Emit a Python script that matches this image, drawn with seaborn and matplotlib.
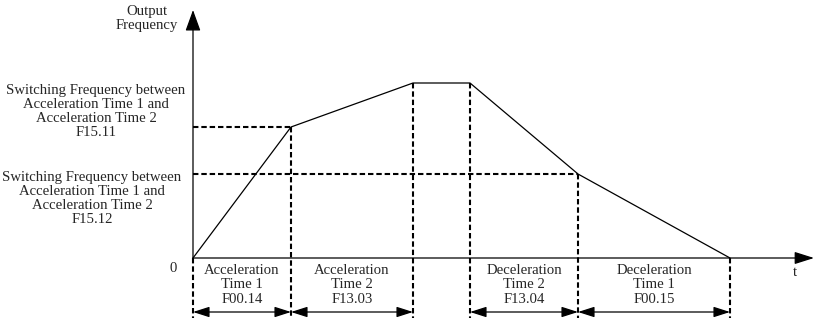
import seaborn as sns
import matplotlib.pyplot as plt
import pandas as pd

#### Data: speed profile (time units, frequency units), origin at axes crossing
t_points = [0, 98, 220, 277, 385, 537]
f_points = [0, 131, 175, 175, 84, 0]
f_switch_acc = 131   # F15.11
f_switch_dec = 84    # F15.12
t_marks = [0, 98, 220, 277, 385, 537]
interval_pairs = [(0, 98), (98, 220), (277, 385), (385, 537)]
interval_labels = ['Acceleration\nTime 1\nF00.14',
                   'Acceleration\nTime 2\nF13.03',
                   'Deceleration\nTime 2\nF13.04',
                   'Deceleration\nTime 1\nF00.15']
y_labels = ['Switching Frequency between\nAcceleration Time 1 and\nAcceleration Time 2\nF15.11',
            'Switching Frequency between\nAcceleration Time 1 and\nAcceleration Time 2\nF15.12']

sns.set_theme(style='white')
plt.rcParams['font.family'] = ['Liberation Serif', 'DejaVu Serif']
FS = 10.6

fig = plt.figure(figsize=(8.16, 3.2), dpi=100)
ax = fig.add_axes([0, 0, 1, 1])
ax.set_xlim(-193, 623)
ax.set_ylim(-62, 258)
ax.axis('off')

df = pd.DataFrame({'t': t_points, 'f': f_points})
sns.lineplot(data=df, x='t', y='f', color='black', lw=0.9, sort=False, ax=ax)

# axes with arrow heads
ax.annotate('', xy=(0, 248), xytext=(0, 0),
            arrowprops=dict(arrowstyle='-|>,head_length=1.3,head_width=0.47',
                            mutation_scale=10, color='black', lw=0.9,
                            shrinkA=0, shrinkB=0))
ax.annotate('', xy=(621, 0), xytext=(0, 0),
            arrowprops=dict(arrowstyle='-|>,head_length=1.2,head_width=0.38',
                            mutation_scale=10, color='black', lw=0.9,
                            shrinkA=0, shrinkB=0))

dash = (0, (2.6, 1.4))
# horizontal dashed guides
ax.plot([0, t_points[1]], [f_switch_acc, f_switch_acc], color='black', lw=1.5, ls=dash)
ax.plot([0, t_points[4]], [f_switch_dec, f_switch_dec], color='black', lw=1.5, ls=dash)
# vertical dashed guides
for t, f in zip(t_marks, f_points):
    ax.plot([t, t], [f, -60], color='black', lw=1.5, ls=dash)

# dimension arrows and labels
for (a, b), lab in zip(interval_pairs, interval_labels):
    ax.annotate('', xy=(b, -54), xytext=(a, -54),
                arrowprops=dict(arrowstyle='<|-|>,head_length=1.0,head_width=0.32',
                                mutation_scale=10, color='black', lw=0.9,
                                shrinkA=0, shrinkB=0))
    ax.text((a + b) / 2, -27, lab, ha='center', va='center', fontsize=FS, linespacing=1.12)

ax.text(-46, 239.5, 'Output\nFrequency', ha='center', va='center', fontsize=FS, linespacing=1.12)
ax.text(-97, 146.5, y_labels[0], ha='center', va='center', fontsize=FS, linespacing=1.12)
ax.text(-101, 59.5, y_labels[1], ha='center', va='center', fontsize=FS, linespacing=1.12)
ax.text(-20, -10, '0', ha='center', va='center', fontsize=FS)
ax.text(602, -15, 't', ha='center', va='center', fontsize=FS)

if ax.get_legend() is not None:
    ax.get_legend().remove()

fig.savefig('out.png', dpi=100)
